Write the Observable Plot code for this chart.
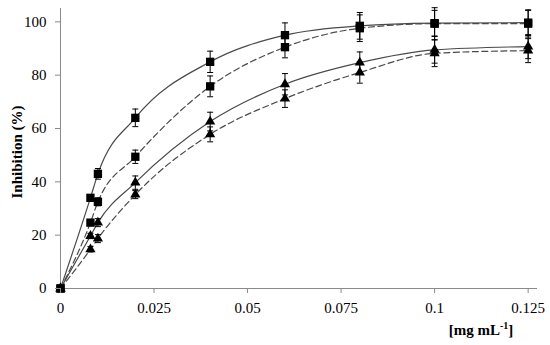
<!DOCTYPE html>
<html>
<head>
<meta charset="utf-8">
<script src="https://cdn.jsdelivr.net/npm/d3@7"></script>
<script src="https://cdn.jsdelivr.net/npm/@observablehq/plot@0.6"></script>
<style>
  html, body { margin: 0; padding: 0; background: #fff; }
</style>
</head>
<body>
<div id="chart"></div>
<script>
// concentration (mg mL-1)
const xValues = [0, 0.008, 0.01, 0.02, 0.04, 0.06, 0.08, 0.1, 0.125];

// series: squares solid, squares dashed, triangles solid, triangles dashed
const sqSolid      = [0, 34, 43, 64, 85, 95, 98.5, 99.5, 99.7];
const sqSolidErr   = [0, 1, 2, 3.3, 4, 4.6, 5, 4.8, 4.8];
const sqDashed     = [0, 24.7, 32.5, 49.4, 75.8, 90.5, 97.6, 99.3, 99.3];
const sqDashedErr  = [0, 1, 1.5, 2.5, 3.9, 4, 5, 6, 5];
const triSolid     = [0, 19.7, 24.7, 39.7, 62.6, 76.6, 84.7, 89.5, 90.7];
const triSolidErr  = [0, 1, 1.5, 2.5, 3.5, 4, 4, 5, 4.5];
const triDashed    = [0, 14.7, 18.7, 35.2, 57.8, 71.2, 81, 88.2, 89.2];
const triDashedErr = [0, 1, 1.5, 1.5, 2.8, 3.3, 4, 5, 4.5];

const xTicks = [0, 0.025, 0.05, 0.075, 0.1, 0.125];
const xTickLabels = ["0", "0.025", "0.05", "0.075", "0.1", "0.125"];
const yTicks = [0, 20, 40, 60, 80, 100];

const seriesDefs = [
  {name: "sqSolid", y: sqSolid, err: sqSolidErr, symbol: "square", dash: null},
  {name: "sqDashed", y: sqDashed, err: sqDashedErr, symbol: "square", dash: "6,3.5"},
  {name: "triSolid", y: triSolid, err: triSolidErr, symbol: "triangle", dash: null},
  {name: "triDashed", y: triDashed, err: triDashedErr, symbol: "triangle", dash: "6,3.5"}
];

const rows = seriesDefs.map(s => xValues.map((x, i) => ({x, y: s.y[i], e: s.err[i], series: s.name})));

const capSymbol = {
  draw(context, size) {
    const w = Math.sqrt(size / Math.PI);
    context.moveTo(-w, 0);
    context.lineTo(w, 0);
  }
};

const FONT = "'Liberation Serif', 'Times New Roman', serif";

const marks = [];
// axes lines
marks.push(Plot.ruleY([0], {stroke: "#8a8a8a", strokeWidth: 1}));
marks.push(Plot.ruleX([0], {y1: 0, y2: 105, stroke: "#8a8a8a", strokeWidth: 1}));
// curves
seriesDefs.forEach((s, k) => {
  marks.push(Plot.line(rows[k], {x: "x", y: "y", curve: "monotone-x", stroke: "#4a4a4a", strokeWidth: 1.2, strokeDasharray: s.dash}));
});
// error bars
seriesDefs.forEach((s, k) => {
  const d = rows[k].filter(r => r.e > 0);
  marks.push(Plot.ruleX(d, {x: "x", y1: r => r.y - r.e, y2: r => r.y + r.e, stroke: "#000", strokeWidth: 1}));
  marks.push(Plot.dot(d, {x: "x", y: r => r.y - r.e, symbol: capSymbol, r: 3, stroke: "#000", strokeWidth: 1, fill: "none"}));
  marks.push(Plot.dot(d, {x: "x", y: r => r.y + r.e, symbol: capSymbol, r: 3, stroke: "#000", strokeWidth: 1, fill: "none"}));
});
// markers (triangles first, squares on top)
[2, 3, 0, 1].forEach(k => {
  const s = seriesDefs[k];
  marks.push(Plot.dot(rows[k], {x: "x", y: "y", symbol: s.symbol, r: s.symbol === "square" ? 4.7 : 3.8, fill: "#000", stroke: "none"}));
});
// axes ticks & labels
marks.push(Plot.axisX({ticks: xTicks, tickFormat: (d, i) => xTickLabels[i], tickSize: 5, tickPadding: 9, stroke: "#8a8a8a", fill: "#000", label: null, fontFamily: FONT, fontSize: 15}));
marks.push(Plot.axisY({ticks: yTicks, tickSize: 5, tickPadding: 9, stroke: "#8a8a8a", fill: "#000", label: null, fontFamily: FONT, fontSize: 15}));

const svg = Plot.plot({
  width: 550,
  height: 345,
  marginLeft: 60,
  marginRight: 13,
  marginTop: 8,
  marginBottom: 57,
  style: {fontFamily: FONT, fontSize: "15px", background: "#fff", color: "#000"},
  x: {domain: [0, 0.1275]},
  y: {domain: [0, 105]},
  marks
});

const sel = d3.select(svg);
sel.append("text")
  .attr("transform", "translate(17,152) rotate(-90)")
  .attr("text-anchor", "middle")
  .attr("dy", "0.35em")
  .attr("font-family", FONT)
  .attr("font-weight", "bold")
  .attr("font-size", "15px")
  .attr("fill", "#000")
  .text("Inhibition (%)");

const xl = sel.append("text")
  .attr("x", 481)
  .attr("y", 335)
  .attr("text-anchor", "middle")
  .attr("font-family", FONT)
  .attr("font-weight", "bold")
  .attr("font-size", "15px")
  .attr("fill", "#000");
xl.append("tspan").text("[mg mL");
xl.append("tspan").attr("dy", -6).attr("font-size", "10px").text("-1");
xl.append("tspan").attr("dy", 6).text("]");

document.getElementById("chart").appendChild(svg);
</script>
</body>
</html>
